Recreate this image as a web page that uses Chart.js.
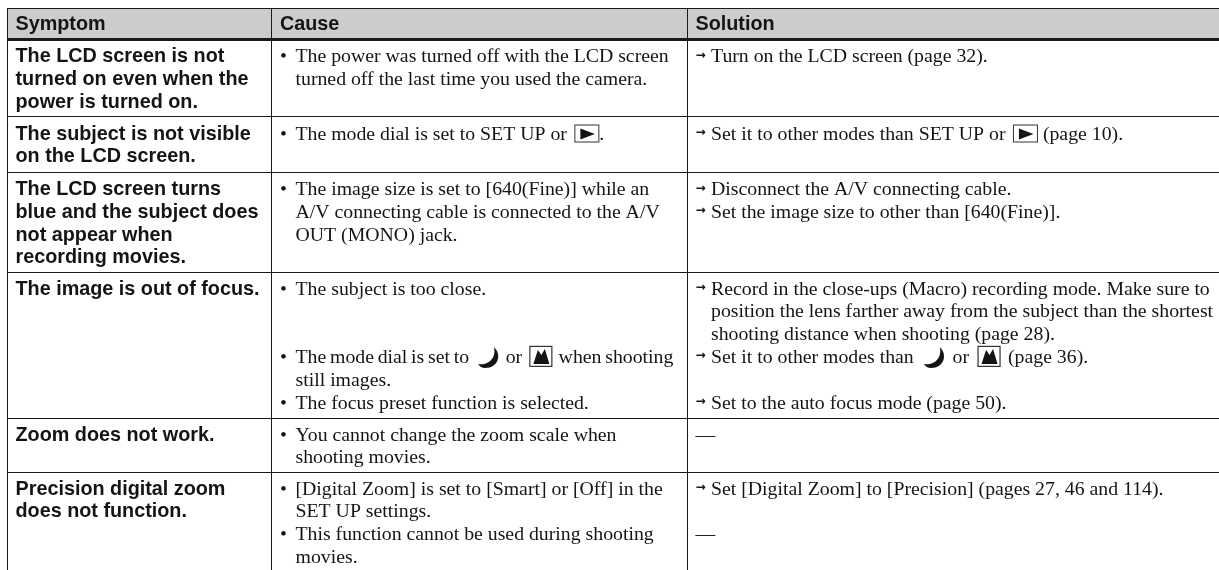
<!DOCTYPE html>
<html>
<head>
<meta charset="utf-8">
<style>
    html, body { margin: 0; padding: 0; background: #fff; }
    canvas { display: block; }
</style>
</head>
<body>
<canvas id="chart" width="1219" height="570"></canvas>
<script src="https://cdn.jsdelivr.net/npm/chart.js@4"></script>
<script>
const headers = ['Symptom', 'Cause', 'Solution'];

const symptoms = [
    ['The LCD screen is not', 'turned on even when the', 'power is turned on.'],
    ['The subject is not visible', 'on the LCD screen.'],
    ['The LCD screen turns', 'blue and the subject does', 'not appear when', 'recording movies.'],
    ['The image is out of focus.'],
    ['Zoom does not work.'],
    ['Precision digital zoom', 'does not function.']
];

const causes = [
    ['• The power was turned off with the LCD screen', 'turned off the last time you used the camera.'],
    ['• The mode dial is set to SET UP or {play}.'],
    ['• The image size is set to [640(Fine)] while an', 'A/V connecting cable is connected to the A/V', 'OUT (MONO) jack.'],
    ['• The subject is too close.', '', '', '• The mode dial is set to {moon} or {mountain} when shooting', 'still images.', '• The focus preset function is selected.'],
    ['• You cannot change the zoom scale when', 'shooting movies.'],
    ['• [Digital Zoom] is set to [Smart] or [Off] in the', 'SET UP settings.', '• This function cannot be used during shooting', 'movies.']
];

const solutions = [
    ['→ Turn on the LCD screen (page 32).'],
    ['→ Set it to other modes than SET UP or {play} (page 10).'],
    ['→ Disconnect the A/V connecting cable.', '→ Set the image size to other than [640(Fine)].'],
    ['→ Record in the close-ups (Macro) recording mode. Make sure to', 'position the lens farther away from the subject than the shortest', 'shooting distance when shooting (page 28).', '→ Set it to other modes than {moon} or {mountain} (page 36).', '', '→ Set to the auto focus mode (page 50).'],
    ['—'],
    ['→ Set [Digital Zoom] to [Precision] (pages 27, 46 and 114).', '', '—']
];

// horizontal rules and column rules, in page units
const rowEdges = [8.5, 39.5, 117, 172.5, 272, 418, 472];
const columnEdges = [7, 271.5, 687];

const serifFont = '19.8px "Liberation Serif"';
const sansFont = 'bold 19.8px "Liberation Sans"';
const arrowFont = 'bold 12px "DejaVu Sans"';
const inkColor = '#141414';
const lineStep = 22.8;

const icons = {
    play: {lead: 2.5, width: 25, trail: 0},
    moon: {lead: 5, width: 20, trail: 4},
    mountain: {lead: 3.5, width: 23, trail: 2.5}
};

function drawIcon(ctx, name, x, baseline) {
    ctx.save();
    ctx.fillStyle = inkColor;
    ctx.strokeStyle = '#333';
    ctx.translate(x, baseline);
    ctx.beginPath();
    if (name === 'moon') {
        ctx.moveTo(16, -16);
        ctx.bezierCurveTo(24, -9, 21, 5, 7, 5);
        ctx.quadraticCurveTo(3, 5, 0, 1);
        ctx.bezierCurveTo(10, 3, 19, -5, 16, -16);
    } else if (name === 'play') {
        ctx.lineWidth = 1;
        ctx.strokeRect(0.5, -14.5, 24, 17);
        ctx.moveTo(6, -11);
        ctx.lineTo(20.5, -5.5);
        ctx.lineTo(6, 0);
    } else {
        ctx.lineWidth = 1.2;
        ctx.strokeRect(0.5, -16.5, 22, 20);
        ctx.moveTo(4, 1);
        ctx.lineTo(8.5, -13);
        ctx.lineTo(12, -8);
        ctx.lineTo(15.5, -14);
        ctx.lineTo(20, 1);
    }
    ctx.closePath();
    ctx.fill();
    ctx.restore();
}

function drawInline(ctx, line, x, baseline) {
    const parts = line.split(/\{(\w+)\}/);
    parts.forEach((part, i) => {
        if (i % 2) {
            const icon = icons[part];
            drawIcon(ctx, part, x + icon.lead, baseline);
            x += icon.lead + icon.width + icon.trail;
        } else if (part) {
            ctx.fillText(part, x, baseline);
            x += ctx.measureText(part).width;
        }
    });
}

function drawCell(ctx, lines, x, rowTop, indented) {
    lines.forEach((line, k) => {
        const baseline = rowTop + 21 + k * lineStep;
        if (!indented) {
            ctx.fillText(line, x, baseline);
            return;
        }
        let text = line;
        if (line.startsWith('• ')) {
            ctx.fillText('•', x, baseline);
            text = line.slice(2);
        } else if (line.startsWith('→ ')) {
            ctx.save();
            ctx.font = arrowFont;
            ctx.fillText('→', x, baseline - 3.5);
            ctx.restore();
            text = line.slice(2);
        } else if (line === '—') {
            ctx.fillText(line, x, baseline);
            return;
        }
        // this one line is set tighter in the original
        ctx.wordSpacing = line === causes[3][3] ? '-1.2px' : '0px';
        drawInline(ctx, text, x + 15.5, baseline);
        ctx.wordSpacing = '0px';
    });
}

const tableText = {
    id: 'tableText',
    afterDraw(chart) {
        const ctx = chart.ctx;
        const xs = chart.scales.x;
        const ys = chart.scales.y;
        const textX = columnEdges.map(v => xs.getPixelForValue(v) + 8.5);
        const rowTop = r => ys.getPixelForValue(rowEdges[r + 1]) + 1.5;
        ctx.save();
        ctx.fillStyle = inkColor;
        ctx.textBaseline = 'alphabetic';
        ctx.font = sansFont;
        headers.forEach((h, i) => ctx.fillText(h, textX[i], ys.getPixelForValue(rowEdges[0]) + 21.5));
        symptoms.forEach((lines, r) => drawCell(ctx, lines, textX[0], rowTop(r), false));
        ctx.font = serifFont;
        causes.forEach((lines, r) => drawCell(ctx, lines, textX[1], rowTop(r), true));
        solutions.forEach((lines, r) => drawCell(ctx, lines, textX[2], rowTop(r), true));
        ctx.restore();
    }
};

new Chart(document.getElementById('chart'), {
    type: 'line',
    data: {
        datasets: [{
            data: [{x: 7, y: rowEdges[1]}, {x: 1219, y: rowEdges[1]}],
            fill: {value: rowEdges[0]},
            backgroundColor: '#cccccc',
            borderWidth: 0,
            pointRadius: 0
        }]
    },
    options: {
        responsive: false,
        animation: false,
        layout: {padding: {top: 8, left: 7, right: 0, bottom: 0}},
        plugins: {legend: {display: false}, tooltip: {enabled: false}},
        scales: {
            x: {
                type: 'linear',
                min: 7,
                max: 1219,
                afterBuildTicks: scale => { scale.ticks = columnEdges.map(v => ({value: v})); },
                ticks: {display: false},
                border: {display: false},
                grid: {color: '#1a1a1a', lineWidth: 1, drawTicks: false, z: 1}
            },
            y: {
                type: 'linear',
                reverse: true,
                min: 8,
                max: 570,
                afterBuildTicks: scale => { scale.ticks = rowEdges.map(v => ({value: v})); },
                ticks: {display: false},
                border: {display: false},
                grid: {
                    color: '#1a1a1a',
                    lineWidth: c => c.tick && c.tick.value === rowEdges[1] ? 3 : 1,
                    drawTicks: false,
                    z: 1
                }
            }
        }
    },
    plugins: [tableText]
});
</script>
</body>
</html>
